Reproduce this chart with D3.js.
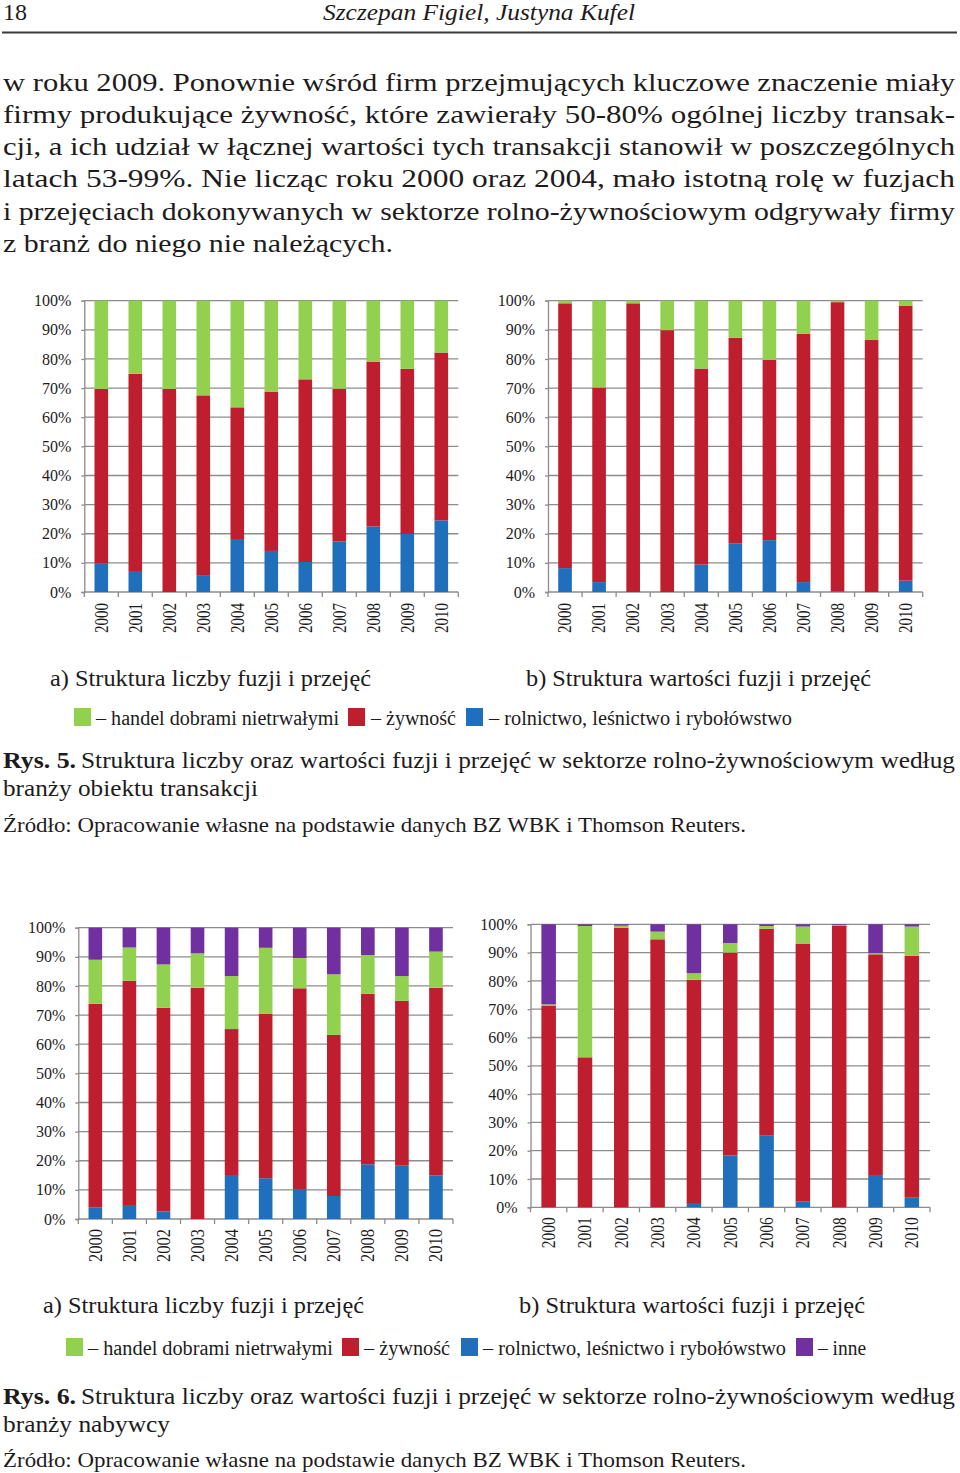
<!DOCTYPE html>
<html>
<head>
<meta charset="utf-8">
<script src="https://cdn.jsdelivr.net/npm/d3@7"></script>
<style>
body { margin: 0; background: #fff; }
svg { display: block; }
text { font-family: "Liberation Serif", "Times New Roman", serif; fill: #1e1b1c; }
</style>
</head>
<body>
<script>
// ---- data ----
var years = ['2000', '2001', '2002', '2003', '2004', '2005', '2006', '2007', '2008', '2009', '2010'];
var yTicks = [0, 10, 20, 30, 40, 50, 60, 70, 80, 90, 100];

// Rys. 5a - struktura liczby (branza obiektu)
var r5aRoln   = [9.7, 6.9, 0, 5.8, 18.2, 14.1, 10.3, 17.3, 22.5, 19.9, 24.6];
var r5aZyw    = [60.0, 68.0, 69.7, 61.7, 45.2, 54.7, 62.7, 52.5, 56.6, 56.7, 57.6];
var r5aHandel = [30.3, 25.1, 30.3, 32.5, 36.6, 31.2, 27.0, 30.2, 20.9, 23.4, 17.8];

// Rys. 5b - struktura wartosci (branza obiektu)
var r5bRoln   = [8.2, 3.4, 0, 0, 9.4, 16.6, 17.8, 3.4, 0.2, 0, 3.9];
var r5bZyw    = [90.9, 66.8, 99.1, 89.9, 67.3, 70.7, 61.9, 85.2, 99.3, 86.5, 94.3];
var r5bHandel = [0.9, 29.8, 0.9, 10.1, 23.3, 12.7, 20.3, 11.4, 0.5, 13.5, 1.8];

// Rys. 6a - struktura liczby (branza nabywcy)
var r6aRoln   = [3.9, 4.5, 2.6, 0, 15.1, 14.0, 10.3, 7.9, 18.8, 18.3, 14.9];
var r6aZyw    = [70.0, 77.3, 69.9, 79.4, 50.1, 56.4, 68.9, 55.3, 58.5, 56.6, 64.5];
var r6aHandel = [15.1, 11.4, 14.9, 11.8, 18.2, 22.7, 10.4, 20.8, 13.3, 8.5, 12.4];
var r6aInne   = [11.0, 6.8, 12.6, 8.8, 16.6, 6.9, 10.4, 16.0, 9.4, 16.6, 8.2];

// Rys. 6b - struktura wartosci (branza nabywcy)
var r6bRoln   = [0, 0, 0, 0, 1.2, 18.3, 25.3, 2.0, 0, 11.4, 3.4];
var r6bZyw    = [71.3, 53.0, 98.8, 94.7, 79.2, 71.7, 73.1, 91.2, 99.4, 78.0, 85.5];
var r6bHandel = [0.4, 46.4, 0.7, 2.7, 2.3, 3.4, 1.0, 6.0, 0.3, 0.4, 10.3];
var r6bInne   = [28.3, 0.6, 0.5, 2.6, 17.3, 6.6, 0.6, 0.8, 0.3, 10.2, 0.8];

var legendLabels = ['– handel dobrami nietrwałymi', '– żywność', '– rolnictwo, leśnictwo i rybołówstwo', '– inne'];

var bodyLines = [
	'w roku 2009. Ponownie wśród firm przejmujących kluczowe znaczenie miały',
	'firmy produkujące żywność, które zawierały 50-80% ogólnej liczby transak-',
	'cji, a ich udział w łącznej wartości tych transakcji stanowił w poszczególnych',
	'latach 53-99%. Nie licząc roku 2000 oraz 2004, mało istotną rolę w fuzjach',
	'i przejęciach dokonywanych w sektorze rolno-żywnościowym odgrywały firmy',
	'z branż do niego nie należących.'
];

var colors = { handel: '#92d050', zyw: '#be1e2d', roln: '#1f6fbd', inne: '#7030a0' };

var svg = d3.select('body').append('svg')
	.attr('width', 960)
	.attr('height', 1473);

// puts one line of text, squeezed/stretched to the width it has on the page
function line(txt, x, y, w, size, extra) {
	var t = svg.append('text')
		.attr('x', x)
		.attr('y', y)
		.attr('font-size', size)
		.text(txt);
	if (w) t.attr('textLength', w).attr('lengthAdjust', 'spacingAndGlyphs');
	if (extra) extra(t);
	return t;
}

// ---- page header ----
line('18', 3, 20, 24, 24);
line('Szczepan Figiel, Justyna Kufel', 323, 20, 312, 24, function(t) { t.attr('font-style', 'italic'); });
svg.append('line')
	.attr('x1', 2).attr('x2', 957)
	.attr('y1', 32.5).attr('y2', 32.5)
	.attr('stroke', '#3a3a3a')
	.attr('stroke-width', 2);

// ---- body text ----
bodyLines.forEach(function(s, i) {
	var last = i == bodyLines.length - 1;
	line(s, 3, 90.5 + i * 32.3, last ? 390 : 952, 25);
});

// ---- one stacked 100% bar chart ----
function drawChart(cfg) {
	var data = years.map(function(y, i) {
		var o = { year: y };
		cfg.keys.forEach(function(k) { o[k] = cfg.series[k][i]; });
		return o;
	});

	var stack = d3.stack().keys(cfg.keys);
	var layers = stack(data);

	var x = d3.scaleBand()
		.domain(years)
		.range([cfg.x0, cfg.x1])
		.paddingInner(0.6)
		.paddingOuter(0.3);

	var y = d3.scaleLinear()
		.domain([0, 100])
		.range([cfg.yBot, cfg.yTop]);

	var g = svg.append('g');

	// gridlines
	g.selectAll('.grid')
		.data(yTicks)
		.enter().append('line')
		.attr('x1', cfg.x0).attr('x2', cfg.x1)
		.attr('y1', function(d) { return y(d); })
		.attr('y2', function(d) { return y(d); })
		.attr('stroke', '#8c8c8c')
		.attr('stroke-width', 1.3);

	// bars
	g.selectAll('.layer')
		.data(layers)
		.enter().append('g')
		.attr('fill', function(d) { return colors[d.key]; })
		.selectAll('rect')
		.data(function(d) { return d; })
		.enter().append('rect')
		.attr('x', function(d) { return x(d.data.year); })
		.attr('width', x.bandwidth())
		.attr('y', function(d) { return y(d[1]); })
		.attr('height', function(d) { return y(d[0]) - y(d[1]); });

	// y axis
	var yAxis = d3.axisLeft(y)
		.tickValues(yTicks)
		.tickFormat(function(d) { return d + '%'; })
		.tickSize(3)
		.tickPadding(10);

	var ya = g.append('g')
		.attr('transform', 'translate(' + cfg.x0 + ',0)')
		.call(yAxis);
	ya.select('.domain').attr('stroke', '#8c8c8c').attr('stroke-width', 1.3);
	ya.selectAll('.tick line').attr('stroke', '#8c8c8c').attr('stroke-width', 1.3);
	ya.selectAll('.tick text')
		.attr('font-family', '"Liberation Serif", serif')
		.attr('font-size', 16)
		.attr('fill', '#1e1b1c');

	// x axis: ticks between the bands
	var edges = years.map(function(d) { return x(d) - x.step() * x.paddingInner() / 2; });
	edges.push(cfg.x1);
	g.selectAll('.xtick')
		.data(edges)
		.enter().append('line')
		.attr('x1', function(d) { return d; })
		.attr('x2', function(d) { return d; })
		.attr('y1', cfg.yBot)
		.attr('y2', cfg.yBot + 5)
		.attr('stroke', '#8c8c8c')
		.attr('stroke-width', 1.3);

	// year labels, turned
	g.selectAll('.year')
		.data(years)
		.enter().append('text')
		.attr('transform', function(d) {
			return 'translate(' + (x(d) + x.bandwidth() / 2) + ',' + (cfg.yBot + cfg.labGap) + ') rotate(-90) scale(1,1.2)';
		})
		.attr('text-anchor', 'end')
		.attr('dy', '0.35em')
		.attr('font-size', 15)
		.attr('textLength', cfg.labLen)
		.attr('lengthAdjust', 'spacingAndGlyphs')
		.text(function(d) { return d; });
}

drawChart({
	x0: 84.3, x1: 458.3, yTop: 300.7, yBot: 592, labGap: 11, labLen: 30,
	keys: ['roln', 'zyw', 'handel'],
	series: { roln: r5aRoln, zyw: r5aZyw, handel: r5aHandel }
});
drawChart({
	x0: 548, x1: 922.7, yTop: 300.7, yBot: 592, labGap: 11, labLen: 30,
	keys: ['roln', 'zyw', 'handel'],
	series: { roln: r5bRoln, zyw: r5bZyw, handel: r5bHandel }
});
drawChart({
	x0: 78.3, x1: 453, yTop: 927.7, yBot: 1219, labGap: 10, labLen: 33,
	keys: ['roln', 'zyw', 'handel', 'inne'],
	series: { roln: r6aRoln, zyw: r6aZyw, handel: r6aHandel, inne: r6aInne }
});
drawChart({
	x0: 530.5, x1: 930, yTop: 924.3, yBot: 1207.3, labGap: 10, labLen: 31,
	keys: ['roln', 'zyw', 'handel', 'inne'],
	series: { roln: r6bRoln, zyw: r6bZyw, handel: r6bHandel, inne: r6bInne }
});

// ---- sub captions ----
line('a) Struktura liczby fuzji i przejęć', 50, 686, 321, 23);
line('b) Struktura wartości fuzji i przejęć', 526, 686, 345, 23);
line('a) Struktura liczby fuzji i przejęć', 43, 1313, 321, 23);
line('b) Struktura wartości fuzji i przejęć', 519, 1313, 346, 23);

// ---- legends ----
function legend(items, y) {
	items.forEach(function(it) {
		svg.append('rect')
			.attr('x', it.bx).attr('y', y - 17)
			.attr('width', 17).attr('height', 18)
			.attr('fill', colors[it.key]);
		line(it.label, it.tx, y, it.tw, 20);
	});
}

legend([
	{ key: 'handel', label: legendLabels[0], bx: 74, tx: 96, tw: 243 },
	{ key: 'zyw', label: legendLabels[1], bx: 348, tx: 371, tw: 85 },
	{ key: 'roln', label: legendLabels[2], bx: 466, tx: 489, tw: 303 }
], 725);

legend([
	{ key: 'handel', label: legendLabels[0], bx: 66, tx: 88, tw: 245 },
	{ key: 'zyw', label: legendLabels[1], bx: 342, tx: 364, tw: 86 },
	{ key: 'roln', label: legendLabels[2], bx: 461, tx: 483, tw: 303 },
	{ key: 'inne', label: legendLabels[3], bx: 796, tx: 818, tw: 48 }
], 1355);

// ---- figure captions ----
function caption(num, rest1, rest2, y) {
	line('Rys. ' + num + '.', 3, y, 73, 24, function(t) { t.attr('font-weight', 'bold'); });
	line('Struktura liczby oraz wartości fuzji i przejęć w sektorze rolno-żywnościowym według', 81, y, 874, 24);
	line(rest1, 3, y + 28, rest2, 24);
}

caption('5', 'branży obiektu transakcji', 255, 768);
line('Źródło: Opracowanie własne na podstawie danych BZ WBK i Thomson Reuters.', 3, 832, 743, 22);

caption('6', 'branży nabywcy', 167, 1404);
line('Źródło: Opracowanie własne na podstawie danych BZ WBK i Thomson Reuters.', 3, 1467, 743, 22);
</script>
</body>
</html>
